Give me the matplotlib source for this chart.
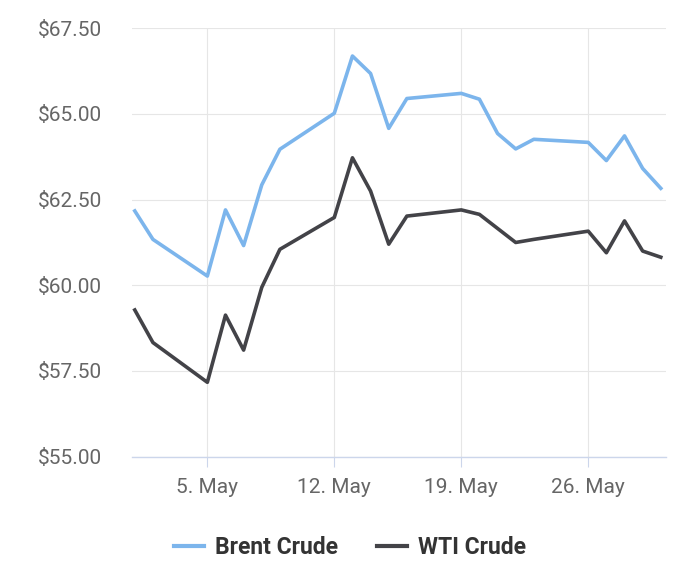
import datetime as dt
import matplotlib
matplotlib.use("Agg")
import matplotlib.pyplot as plt
import matplotlib.dates as mdates
from matplotlib.ticker import FuncFormatter

days = [1, 2, 5, 6, 7, 8, 9, 12, 13, 14, 15, 16, 19, 20, 21, 22, 23, 26, 27, 28, 29, 30]
brent = [62.17, 61.34, 60.27, 62.20, 61.16, 62.93, 63.97, 65.02, 66.69, 66.18, 64.58,
         65.45, 65.60, 65.43, 64.43, 63.98, 64.26, 64.17, 63.64, 64.36, 63.41, 62.83]
wti = [59.28, 58.33, 57.17, 59.13, 58.11, 59.94, 61.05, 61.98, 63.72, 62.75, 61.20,
       62.02, 62.20, 62.07, 61.66, 61.25, 61.34, 61.58, 60.95, 61.88, 61.00, 60.82]
yticks = [55, 57.5, 60, 62.5, 65, 67.5]

dates = [dt.datetime(2025, 5, d) for d in days]

plt.rcParams['font.family'] = ['Roboto', 'DejaVu Sans']

fig = plt.figure(figsize=(7, 5.72), dpi=100)
ax = fig.add_axes([0.189, 0.2016, 0.762, 0.749])

ax.plot(dates, brent, color='#7cb5ec', lw=2.6, label='Brent Crude', solid_joinstyle='round')
ax.plot(dates, wti, color='#434348', lw=2.6, label='WTI Crude', solid_joinstyle='round')

ax.set_ylim(55, 67.5)
ax.set_yticks(yticks)
ax.yaxis.set_major_formatter(FuncFormatter(lambda v, p: f"${v:.2f}"))
ax.set_xlim(dt.datetime(2025, 5, 1) - dt.timedelta(hours=3.3),
            dt.datetime(2025, 5, 30) + dt.timedelta(hours=6.5))
ax.xaxis.set_major_locator(mdates.WeekdayLocator(byweekday=mdates.MO))
ax.xaxis.set_major_formatter(mdates.DateFormatter('%-d. %b'))

ax.grid(True, color='#e6e6e6', lw=0.8)
ax.set_axisbelow(True)
for s in ['top', 'right', 'left']:
    ax.spines[s].set_visible(False)
ax.spines['bottom'].set_color('#ccd6eb')
ax.spines['bottom'].set_linewidth(1.0)
ax.tick_params(axis='y', length=0, pad=22, labelsize=15, labelcolor='#666666')
ax.tick_params(axis='x', length=7, width=0.8, color='#ccd6eb', pad=8,
               labelsize=15, labelcolor='#666666')

leg = fig.legend(loc='center', bbox_to_anchor=(0.5, 0.043), ncol=2, frameon=False,
                 handlelength=1.3, handletextpad=0.5, columnspacing=1.7,
                 prop={'weight': 'bold', 'size': 16.5}, labelcolor='#333333')
for h in leg.get_lines():
    h.set_linewidth(3.0)

fig.savefig('out.png', dpi=100)
